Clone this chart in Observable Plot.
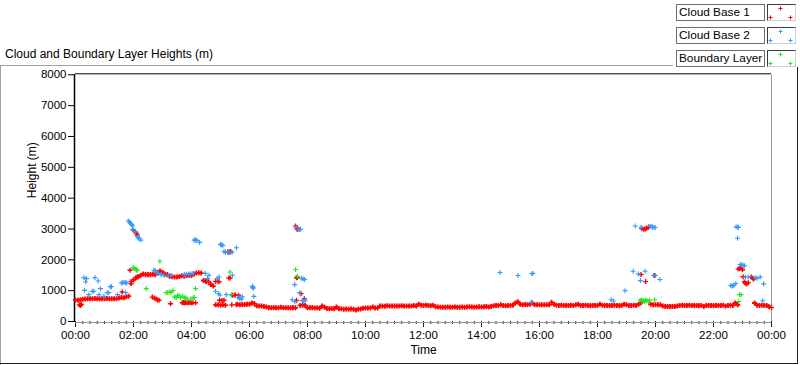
<!DOCTYPE html>
<html>
<head>
<meta charset="utf-8">
<script src="https://cdn.jsdelivr.net/npm/d3@7"></script>
<script src="https://cdn.jsdelivr.net/npm/@observablehq/plot@0.6"></script>
<style>
  html, body { margin: 0; padding: 0; background: #fff; }
  #wrap { position: relative; width: 800px; height: 365px; overflow: hidden; background: #fff;
          font-family: "Liberation Sans", Arial, sans-serif; }
  #chart { position: absolute; left: 0; top: 0; }
  .title { position: absolute; left: 5px; top: 47px; font-size: 12px; line-height: 14px; color: #000; white-space: nowrap; }
  .lab { position: absolute; left: 676px; width: 85px; height: 15px; border: 1px solid #6e6e6e; background: #fff;
         font-size: 11.8px; line-height: 15px; padding-left: 2px; box-sizing: content-box; color: #000; white-space: nowrap; overflow: hidden; }
  .sw { position: absolute; left: 767px; width: 27px; height: 15px; background: #fff;
        border-top: 1px solid #3c3c3c; border-left: 1px solid #3c3c3c; border-right: 1px solid #cfcfcf; border-bottom: 1px solid #cfcfcf; }
  .sw svg { position: absolute; left: 0; top: 0; }
  .ln { position: absolute; }
</style>
</head>
<body>
<div id="wrap">
  <div class="ln" style="left:0;top:65px;width:673px;height:1px;background:#a0a0a0"></div>
  <div class="ln" style="left:0;top:65px;width:1px;height:300px;background:#a0a0a0"></div>
  <div class="ln" style="left:797px;top:67px;width:1px;height:297px;background:#202020"></div>
  <div class="ln" style="left:0;top:363px;width:798px;height:1px;background:#202020"></div>
  <div class="title">Cloud and Boundary Layer Heights (m)</div>
  <div id="legend"></div>
  <div id="chart"></div>
</div>
<script>
// ---- Series names and colours ----
const seriesNames = ["Cloud Base 1", "Cloud Base 2", "Boundary Layer"];
const seriesColors = ["#ff0000", "#3399ff", "#22e622"];

// ---- Axis ticks ----
const yTicks = [0, 1000, 2000, 3000, 4000, 5000, 6000, 7000, 8000];
const xMajorTicks = [0, 2, 4, 6, 8, 10, 12, 14, 16, 18, 20, 22, 24];
const xMinorStepHours = 0.25;

// ---- Cloud Base 1: continuous band, one value every 5 minutes (m), null = no detection ----
const bandStepMinutes = 5;
const cb1Band = [
  700,690,705,720,730,740,735,740,745,740,735,740,          // 00h
  740,745,740,735,740,740,760,775,770,800,820,1230,         // 01h
  1350,1420,1450,1500,1540,1520,1520,1520,1530,1520,1600,1640, // 02h
  1600,1530,1520,1470,1450,1445,1440,1460,1480,1470,1490,1500, // 03h
  1490,1540,1570,1580,1570,1330,1300,1290,1200,1150,540,540,   // 04h
  530,540,530,null,null,850,860,560,545,550,550,560,        // 05h
  560,600,580,510,500,500,490,470,450,445,450,445,          // 06h
  445,460,445,445,445,445,450,445,null,520,530,520,         // 07h
  446,446,450,440,446,430,500,470,420,415,420,413,          // 08h
  470,413,410,400,402,400,405,400,370,400,405,430,          // 09h
  435,435,440,470,435,440,500,500,495,510,500,500,          // 10h
  500,505,500,510,500,500,505,500,520,500,560,530,          // 11h
  520,530,520,510,530,480,470,460,465,465,470,460,          // 12h
  465,470,460,465,470,465,470,480,470,465,470,475,          // 13h
  470,475,490,470,490,510,520,520,540,520,510,520,          // 14h
  520,530,600,640,560,545,550,545,560,600,545,545,          // 15h
  540,545,540,545,540,620,560,530,520,525,520,520,          // 16h
  520,525,520,540,560,520,520,525,520,515,520,520,          // 17h
  520,560,530,520,520,515,520,525,520,515,520,560,          // 18h
  540,520,520,525,520,560,610,null,null,null,560,545,       // 19h
  545,540,545,500,490,485,490,490,485,500,520,525,          // 20h
  520,520,525,520,520,520,515,520,490,520,520,520,          // 21h
  515,520,520,520,525,500,520,530,520,600,540,null,         // 22h
  null,null,null,null,null,600,530,520,525,520,520,480      // 23h
];

// ---- Cloud Base 1: scattered detections [hour, height m] ----
const cb1Points = [
  [0.13,540],[0.17,520],[0.2,560],
  [1.61,955],[1.88,1663],[1.92,1300],
  [1.99,2967],[2.05,2913],[2.1,2858],[2.13,2804],[2.13,1445],
  [2.65,790],[2.72,760],[2.78,730],[2.83,700],[2.88,690],
  [3.28,577],
  [3.68,610],[3.72,615],[3.76,610],[3.8,605],[3.85,610],[3.9,610],[3.95,615],[4.0,605],[4.05,610],[4.14,610],
  [4.83,1300],[4.9,1310],[4.95,1290],
  [4.97,690],[5.05,680],[5.12,690],
  [5.29,1412],[5.33,1410],
  [5.25,2260],[5.3,2250],[5.35,2270],
  [5.39,540],[5.55,540],[5.62,850],
  [7.59,3100],[7.64,2990],[7.67,3000],
  [7.62,1420],[7.65,1424],
  [7.62,685],[7.78,903],[7.89,740],
  [19.53,3010],[19.6,2990],[19.65,3000],[19.7,3030],[19.76,3060],
  [19.5,1522],[19.66,1294],[19.97,1490],
  [22.85,1700],[22.9,1720],[22.95,1740],[23.0,1680],[23.02,1450],[23.06,1280],[23.1,1240],
  [23.15,1220],[23.2,1260],[23.3,1440],[23.35,1400],[23.39,1380],
  [24.0,450]
];

// ---- Cloud Base 2 [hour, height m] ----
const cb2Points = [
  [0.29,1424],[0.31,1010],[0.35,1282],[0.38,1390],[0.46,870],[0.58,978],[0.63,978],[0.67,1424],
  [0.78,1315],[0.81,870],[0.86,1065],[0.98,815],[1.09,935],[1.15,935],[1.2,1130],[1.24,1130],
  [1.45,870],[1.58,1250],[1.63,1260],[1.68,1270],[1.73,1260],[1.77,1250],[1.73,935],
  [1.82,3260],[1.86,3227],[1.9,3184],[1.93,3151],[1.96,3108],[1.98,2989],[2.07,2913],
  [2.14,2750],[2.16,2717],[2.19,2695],[2.25,2640],
  [2.7,1660],[2.75,1650],[2.8,1600],[2.86,1560],[2.95,1520],[3.05,1500],[3.2,1480],[3.3,1490],
  [3.75,1520],[3.82,1530],[3.9,1540],[3.97,1540],[4.05,1560],
  [4.09,2640],[4.12,2640],[4.15,2645],[4.19,2630],[4.28,2565],
  [4.47,1560],[4.55,1390],[4.6,1500],[4.89,1390],[4.95,1445],[4.83,980],[4.93,900],
  [5.0,2500],[5.04,2480],[5.08,2470],[5.12,2270],[5.17,2250],[5.25,2240],[5.32,2240],[5.4,2245],[5.55,2390],
  [5.41,1500],
  [4.98,860],[5.2,870],[5.6,780],[5.66,750],[5.72,720],[5.75,800],
  [6.1,1140],[6.12,1100],[6.13,1080],[6.15,815],
  [7.47,706],[7.56,650],[7.56,1196],[7.6,3040],[7.73,2980],[7.76,2990],[7.73,935],
  [7.79,1400],[7.85,1380],[7.9,1360],[7.82,680],[7.87,660],[7.92,690],
  [14.64,1587],[15.26,1490],[15.74,1548],[15.77,1560],[15.72,620],
  [18.47,706],[18.55,663],[18.95,1000],[19.23,1630],[19.3,3097],[19.41,1543],[19.48,1326],
  [19.5,3054],[19.64,1630],[19.81,3090],[19.85,3080],[19.9,3060],[19.95,3050],[19.99,3050],
  [19.93,1490],[19.99,1490],[20.15,1360],
  [22.6,1170],[22.65,1140],[22.7,1180],[22.77,1230],[22.78,3070],[22.84,3060],[22.86,3050],
  [22.83,2700],[22.92,1850],[22.97,1830],[23.02,1820],[23.07,1810],[23.1,1445],[23.2,1445],
  [23.44,1420],[23.5,1400],[23.61,1440],[23.73,1220],[23.7,675]
];

// ---- Boundary Layer [hour, height m] ----
const blPoints = [
  [1.99,1750],[2.02,1720],[2.06,1700],[2.1,1680],[2.13,1663],
  [2.44,1066],[2.91,1956],
  [3.12,930],[3.18,940],[3.25,960],[3.3,950],[3.36,1000],[3.42,800],[3.47,780],[3.52,830],
  [3.57,850],[3.62,780],[3.7,820],[3.75,770],[3.8,760],[3.85,730],[3.98,740],[4.05,760],
  [4.1,780],[4.14,1066],
  [5.33,1607],[5.38,870],
  [7.59,1685],[7.65,1470],
  [19.47,690],[19.52,700],[19.58,680],[19.62,640],[19.66,700],[19.7,670],[19.75,650],[19.8,690],[19.97,706],
  [22.87,650],[22.9,870],[22.95,870]
];

// ---- build tables ----
const bandData = cb1Band.map((h, i) => ({t: i * bandStepMinutes / 60, h})).filter(d => d.h != null);
const toRows = arr => arr.map(([t, h]) => ({t, h}));
const cb1Data = toRows(cb1Points);
const cb2Data = toRows(cb2Points);
const blData = toRows(blPoints);
const xMinorTicks = d3.range(0, 24 + 1e-9, xMinorStepHours);
const fmt = d => String(d % 24).padStart(2, "0") + ":00";

const dotOpts = (color, sw = 1.1) => ({x: "t", y: "h", symbol: "plus", r: 1.75, stroke: color, fill: "none", strokeWidth: sw});

const chart = Plot.plot({
  width: 800,
  height: 365,
  marginLeft: 75,
  marginRight: 29,
  marginTop: 74.3,
  marginBottom: 44,
  x: {domain: [0, 24]},
  y: {domain: [0, 8000]},
  style: {background: "transparent", fontFamily: "'Liberation Sans', Arial, sans-serif", color: "#000"},
  marks: [
    Plot.axisY({ticks: yTicks, tickSize: 7, tickPadding: 2, fontSize: 11.5, label: null, stroke: "#000", tickFormat: d => String(d)}),
    Plot.axisX({ticks: xMinorTicks, tickSize: 3, tickFormat: () => "", label: null, stroke: "#222"}),
    Plot.axisX({ticks: xMajorTicks, tickSize: 6, tickPadding: 3, tickFormat: fmt, fontSize: 11.5, label: null, stroke: "#222"}),
    Plot.ruleX([24], {stroke: "#9a9a9a"}),
    Plot.ruleY([0], {stroke: "#9a9a9a", dy: 1}),
    Plot.ruleY([8000], {stroke: "#000", dy: -1}),
    Plot.ruleX([0], {stroke: "#000", strokeWidth: 1.5, dx: -1}),
    Plot.dot(bandData, dotOpts(seriesColors[0], 1.8)),
    Plot.dot(cb1Data, dotOpts(seriesColors[0], 1.4)),
    Plot.dot(cb2Data, dotOpts(seriesColors[1])),
    Plot.dot(blData, dotOpts(seriesColors[2])),
    Plot.text(["Time"], {frameAnchor: "bottom", dy: 32, fontSize: 12, fill: "#000"}),
    Plot.text(["Height (m)"], {frameAnchor: "left", dx: -43, rotate: -90, fontSize: 12, fill: "#000"})
  ]
});
document.getElementById("chart").appendChild(chart);

// ---- legend ----
const legend = document.getElementById("legend");
const rowTops = [4, 27, 50];
const swatchPlus = [[12.5, 3.5], [2.5, 12.5], [22.5, 12.5]];
seriesNames.forEach((name, i) => {
  const lab = document.createElement("div");
  lab.className = "lab";
  lab.style.top = rowTops[i] + "px";
  lab.textContent = name;
  legend.appendChild(lab);
  const sw = document.createElement("div");
  sw.className = "sw";
  sw.style.top = rowTops[i] + "px";
  const paths = swatchPlus.map(([x, y]) => `M${x-2},${y}H${x+2}M${x},${y-2}V${y+2}`).join("");
  sw.innerHTML = `<svg width="27" height="15"><path d="${paths}" stroke="${seriesColors[i]}" stroke-width="1" fill="none"/></svg>`;
  legend.appendChild(sw);
});
</script>
</body>
</html>
